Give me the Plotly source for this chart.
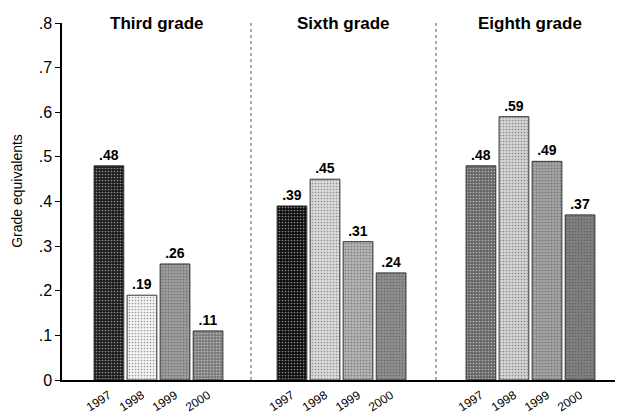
import plotly.graph_objects as go
from plotly.subplots import make_subplots

years = ["1997", "1998", "1999", "2000"]
grades = ["Third grade", "Sixth grade", "Eighth grade"]
third = [0.48, 0.19, 0.26, 0.11]
sixth = [0.39, 0.45, 0.31, 0.24]
eighth = [0.48, 0.59, 0.49, 0.37]
series = [third, sixth, eighth]
y_ticks = [0, 0.1, 0.2, 0.3, 0.4, 0.5, 0.6, 0.7, 0.8]
y_tick_labels = ["0", ".1", ".2", ".3", ".4", ".5", ".6", ".7", ".8"]
y_title = "Grade equivalents"

panel_colors = [
    ["#1c1c1c", "#f3f3f3", "#9c9c9c", "#7c7c7c"],
    ["#0e0e0e", "#dadada", "#b2b2b2", "#8e8e8e"],
    ["#666666", "#d4d4d4", "#a2a2a2", "#808080"],
]
x_ranges = [[-1.42, 4.3], [-1.24, 4.36], [-1.36, 4.3]]
widths = [189, 185, 187]

FONT = "Liberation Sans, Arial, sans-serif"

fig = make_subplots(rows=1, cols=3, shared_yaxes=True, horizontal_spacing=0,
                    column_widths=[w / sum(widths) for w in widths])

for i, vals in enumerate(series):
    labels = [("%.2f" % v).lstrip("0") for v in vals]
    fig.add_trace(go.Bar(
        x=years, y=vals, text=labels, textposition="outside",
        texttemplate="<b>%{text}</b>", cliponaxis=False,
        textfont=dict(size=14, color="black", family=FONT),
        marker=dict(color=panel_colors[i],
                    line=dict(color="#333333", width=1),
                    pattern=dict(shape=".", size=3, solidity=0.25,
                                 fgcolor="#555555", fillmode="overlay")),
        showlegend=False,
    ), row=1, col=i + 1)
    fig.update_xaxes(range=x_ranges[i], type="category", showline=True,
                     linecolor="black", linewidth=1.5, ticks="",
                     tickangle=-33, ticklabelstandoff=2,
                     tickfont=dict(size=12, color="black", family=FONT),
                     showgrid=False, zeroline=False, automargin=False, row=1, col=i + 1)

fig.update_yaxes(range=[0, 0.8], tickvals=y_ticks, ticktext=y_tick_labels,
                 showgrid=False, zeroline=False, showline=True, linecolor="black",
                 linewidth=1.5, ticks="outside", ticklen=5, tickcolor="black",
                 automargin=False,
                 tickfont=dict(size=16, color="black", family=FONT), row=1, col=1)

fig.add_annotation(text=y_title, x=-45 / 561, y=0.53, xref="paper", yref="paper",
                   textangle=-90, xanchor="center", yanchor="middle", showarrow=False,
                   font=dict(size=14, color="black", family=FONT))

# panel titles and dividers
doms = [fig.layout.xaxis.domain, fig.layout.xaxis2.domain, fig.layout.xaxis3.domain]
for i, g in enumerate(grades):
    cx = (doms[i][0] + doms[i][1]) / 2
    fig.add_annotation(text="<b>%s</b>" % g, x=cx, y=1.0, xref="paper", yref="paper",
                       xanchor="center", yanchor="middle", showarrow=False,
                       font=dict(size=17, color="black", family=FONT))
for d in doms[1:]:
    fig.add_shape(type="line", x0=d[0], x1=d[0], y0=0, y1=1, xref="paper", yref="paper",
                  line=dict(color="#555555", width=1, dash="dot"))

fig.update_layout(width=623, height=416, margin=dict(l=54, r=8, t=15, b=44),
                  bargap=0.1, plot_bgcolor="white", paper_bgcolor="white",
                  font=dict(family=FONT, color="black"))
fig.write_html("out.html")
